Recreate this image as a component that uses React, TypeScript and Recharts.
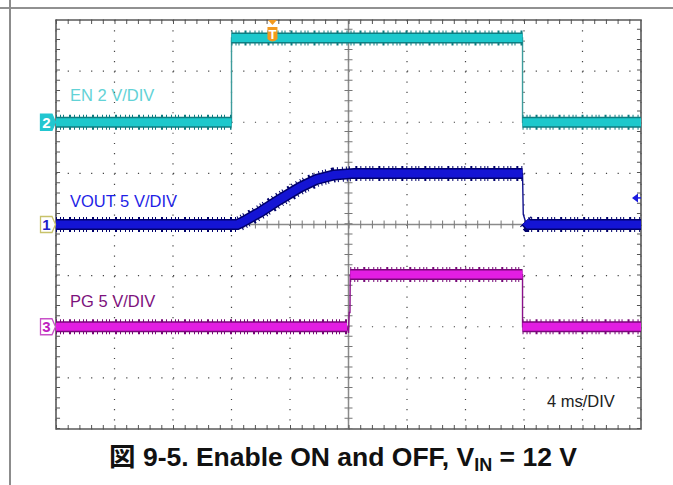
import React from "react";
import {
  LineChart,
  Line,
  XAxis,
  YAxis,
  CartesianGrid,
  ReferenceLine,
  ReferenceDot,
  ReferenceArea,
} from "recharts";

const W = 673;
const H = 485;
const FONT = "'Liberation Sans', Arial, sans-serif";

// screen: 10 div x 8 div, 4 ms/DIV, trigger at centre
const TIME_TICKS = [-20, -16, -12, -8, -4, 0, 4, 8, 12, 16, 20];
const DIV_TICKS = [-4, -3, -2, -1, 0, 1, 2, 3, 4];

// CH2 EN, 2 V/DIV, ground 2 div above centre
const EN_T = [-20, -8, -8, 11.9, 11.9, 20];
const EN_V = [0, 0, 3.3, 3.3, 0, 0];

// CH1 VOUT, 5 V/DIV, ground on centre line
const VOUT_T = [-20, -7.6, -7.3, -6.0, -4.7, -3.3, -2.2, -1.0, 0.4, 11.9, 11.95, 12.1, 12.3, 20];
const VOUT_V = [0, 0, 0.2, 1.25, 2.45, 3.65, 4.4, 4.85, 5.0, 5.0, 1.0, 0.3, 0, 0];

// CH3 PG, 5 V/DIV, ground 2 div below centre
const PG_T = [-20, -0.1, 0.0, 0.05, 0.1, 0.12, 11.9, 11.9, 20];
const PG_V = [0, 0, -0.6, 1.4, 1.4, 5.1, 5.1, 0, 0];

const TRIGGER_T = -5.2;
const TRIGGER_LEVEL_V = 2.6; // on CH1

const FAST_EDGE_MS = 0.2;

type Row = { t: number; y: number | null };

function toRows(t: number[], v: number[], vPerDiv: number, offset: number): Row[] {
  return t.map((x, i) => ({ t: x, y: offset + v[i] / vPerDiv }));
}

// the fuzzy band only on the slow parts, fast edges stay thin
function toBandRows(t: number[], v: number[], vPerDiv: number, offset: number): Row[] {
  const rows: Row[] = [];
  t.forEach((x, i) => {
    if (i > 0 && x - t[i - 1] < FAST_EDGE_MS) rows.push({ t: x, y: null });
    rows.push({ t: x, y: offset + v[i] / vPerDiv });
  });
  return rows;
}

const channels = [
  { name: "en", t: EN_T, v: EN_V, vPerDiv: 2, offset: 2, dark: "#0e7c80", core: "#1cc8cc", edge: "#3d9c9c" },
  { name: "vout", t: VOUT_T, v: VOUT_V, vPerDiv: 5, offset: 0, dark: "#00006c", core: "#1414d4", edge: "#10108c" },
  { name: "pg", t: PG_T, v: PG_V, vPerDiv: 5, offset: -2, dark: "#780878", core: "#e21ee2", edge: "#8a108a" },
];

function tag(label: string, fill: string, stroke: string, color: string) {
  return (p: any) => {
    const { cx, cy } = p;
    const l = cx - 15.5;
    const r = cx - 4;
    return (
      <g>
        <path
          d={`M${l},${cy - 8} H${r} L${cx - 0.5},${cy} L${r},${cy + 8} H${l} Z`}
          fill={fill}
          stroke={stroke}
          strokeWidth={1.3}
        />
        <text x={l + 6} y={cy + 5.5} textAnchor="middle" fontSize={15} fontWeight="bold" fill={color} fontFamily={FONT}>
          {label}
        </text>
      </g>
    );
  };
}

const triggerMark = (p: any) => {
  const { cx, cy } = p;
  return (
    <g>
      <path d={`M${cx - 4.5},${cy} L${cx + 4.5},${cy} L${cx},${cy + 5} Z`} fill="#f39a1f" />
      <path
        d={`M${cx - 5},${cy + 7} H${cx + 5} V${cy + 19} Q${cx},${cy + 24} ${cx - 5},${cy + 19} Z`}
        fill="#f39a1f"
      />
      <text x={cx} y={cy + 19} textAnchor="middle" fontSize={13} fontWeight="bold" fill="#fff" fontFamily={FONT}>
        T
      </text>
    </g>
  );
};

const levelMark = (p: any) => {
  const { cx, cy } = p;
  return (
    <g>
      <path d={`M${cx - 9},${cy} L${cx - 3},${cy - 4.5} L${cx - 3},${cy + 4.5} Z`} fill="#1a1ae0" />
      <line x1={cx - 4} y1={cy} x2={cx} y2={cy} stroke="#1a1ae0" strokeWidth={1.5} />
    </g>
  );
};

export default function App() {
  return (
    <div style={{ position: "absolute", left: 0, top: 0, width: W, height: H, background: "#fff" }}>
      <LineChart width={W} height={H} margin={{ top: 20, right: 32, bottom: 56, left: 56 }}>
        <XAxis type="number" dataKey="t" domain={[-20, 20]} ticks={TIME_TICKS} allowDataOverflow hide />
        <YAxis type="number" domain={[-4, 4]} ticks={DIV_TICKS} allowDataOverflow hide />
        <CartesianGrid horizontal={false} stroke="#444" strokeWidth={1.2} strokeDasharray="1.2 9.04" />
        <CartesianGrid vertical={false} stroke="#444" strokeWidth={1.2} strokeDasharray="1.2 10.5" />

        <ReferenceLine y={0} stroke="#8a8a8a" strokeWidth={1.5} />
        <ReferenceLine x={0} stroke="#8a8a8a" strokeWidth={1.5} />
        <ReferenceLine y={0} stroke="#777" strokeWidth={8} strokeDasharray="1 10.7" />
        <ReferenceLine x={0} stroke="#777" strokeWidth={8} strokeDasharray="1 9.24" />
        <ReferenceLine y={3.96} stroke="#555" strokeWidth={4} strokeDasharray="1 10.7" />
        <ReferenceLine y={-3.96} stroke="#555" strokeWidth={4} strokeDasharray="1 10.7" />
        <ReferenceLine x={-19.86} stroke="#555" strokeWidth={4} strokeDasharray="1 9.24" />
        <ReferenceLine x={19.86} stroke="#555" strokeWidth={4} strokeDasharray="1 9.24" />
        <ReferenceArea x1={-20} x2={20} y1={-4} y2={4} fill="none" stroke="#5a5a5a" strokeWidth={1.6} />

        {channels.map((c) => (
          <Line
            key={c.name + "-edge"}
            data={toRows(c.t, c.v, c.vPerDiv, c.offset)}
            dataKey="y"
            stroke={c.edge}
            strokeWidth={1.4}
            dot={false}
            activeDot={false}
            isAnimationActive={false}
          />
        ))}
        {channels.map((c) => (
          <Line
            key={c.name + "-spikes"}
            data={toBandRows(c.t, c.v, c.vPerDiv, c.offset)}
            dataKey="y"
            stroke={c.dark}
            strokeWidth={15}
            strokeDasharray="1 3 1 2 1 5 2 3 1 4"
            dot={false}
            activeDot={false}
            isAnimationActive={false}
          />
        ))}
        {channels.map((c) => (
          <Line
            key={c.name + "-dark"}
            data={toBandRows(c.t, c.v, c.vPerDiv, c.offset)}
            dataKey="y"
            stroke={c.dark}
            strokeWidth={11}
            dot={false}
            activeDot={false}
            isAnimationActive={false}
          />
        ))}
        {channels.map((c) => (
          <Line
            key={c.name + "-core"}
            data={toBandRows(c.t, c.v, c.vPerDiv, c.offset)}
            dataKey="y"
            stroke={c.core}
            strokeWidth={8}
            dot={false}
            activeDot={false}
            isAnimationActive={false}
          />
        ))}

        <ReferenceDot x={-20} y={2} r={0} shape={tag("2", "#22c6d0", "#22c6d0", "#fff")} />
        <ReferenceDot x={-20} y={0} r={0} shape={tag("1", "#fff", "#c8c26a", "#2020c8")} />
        <ReferenceDot x={-20} y={-2} r={0} shape={tag("3", "#fff", "#c850c8", "#c020c0")} />
        <ReferenceDot x={TRIGGER_T} y={4} r={0} shape={triggerMark} />
        <ReferenceDot x={20} y={TRIGGER_LEVEL_V / 5} r={0} shape={levelMark} />
      </LineChart>

      <svg
        width={W}
        height={H}
        style={{ position: "absolute", left: 0, top: 0, pointerEvents: "none" }}
        fontFamily={FONT}
      >
        <line x1={0} y1={8} x2={W} y2={8} stroke="#222" strokeWidth={1} />
        <line x1={10} y1={0} x2={10} y2={H} stroke="#8c8c8c" strokeWidth={2} />
        <text x={70} y={101} fontSize={16.5} fill="#62d2d6">EN 2 V/DIV</text>
        <text x={70} y={206.5} fontSize={16.5} fill="#1f1fe6">VOUT 5 V/DIV</text>
        <text x={70} y={307} fontSize={16.5} fill="#7d127d">PG 5 V/DIV</text>
        <text x={547} y={406.5} fontSize={16.5} fill="#222">4 ms/DIV</text>
        <text x={343} y={466} textAnchor="middle" fontSize={26.5} fontWeight="bold" fill="#111">
          <tspan fontFamily="'Noto Sans CJK JP', sans-serif">図</tspan>
          {" 9-5. Enable ON and OFF, V"}
          <tspan fontSize={18} dy={5}>IN</tspan>
          <tspan dy={-5}>{" = 12 V"}</tspan>
        </text>
      </svg>
    </div>
  );
}
